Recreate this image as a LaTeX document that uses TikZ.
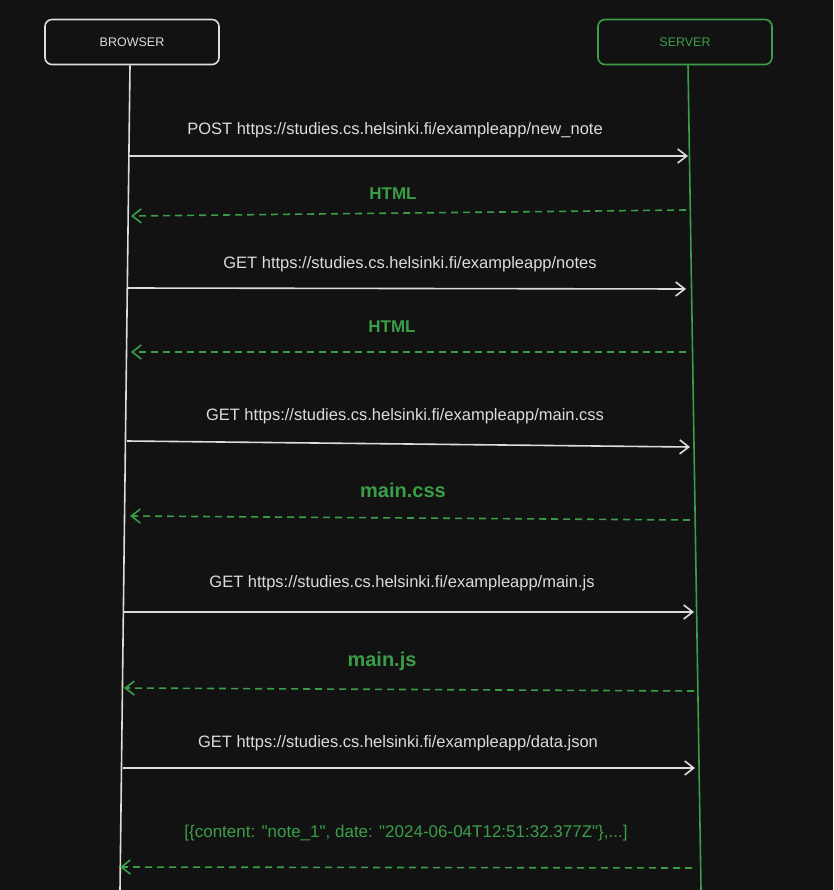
\documentclass[tikz,border=0pt]{standalone}
\usepackage{fontspec}
\setmainfont{Liberation Sans}
\usetikzlibrary{calc,positioning}
\usetikzlibrary{arrows.meta}
\definecolor{bgdark}{HTML}{121212}
\definecolor{inkwhite}{HTML}{DCDCDC}
\definecolor{inkgreen}{HTML}{3A9E48}
\tikzset{>={Straight Barb[width=14pt,length=9pt,line width=1.6pt]}}

\begin{document}
\begin{tikzpicture}[x=1pt,y=-1pt]
        \tikzstyle{actor} = [line width=1.6pt, rectangle, rounded corners=7pt, minimum width=174pt, minimum height=45pt, inner sep=2pt, font=\fontsize{12.5}{14}\selectfont]
        \tikzstyle{req} = [line width=1.6pt, draw=inkwhite, ->]
        \tikzstyle{resp} = [line width=1.6pt, draw=inkgreen, ->, dash pattern=on 7pt off 5pt]
        \tikzstyle{reqlabel} = [text=inkwhite, inner sep=0pt, font=\fontsize{16.5}{18}\selectfont]
        \tikzstyle{resplabel} = [text=inkgreen, inner sep=0pt, font=\fontsize{17}{19}\bfseries\selectfont]

        % background and page size
        \fill[bgdark] (0,0) rectangle (833,890);
        \useasboundingbox (0,0) rectangle (833,890);

        % the two parties
        \node[actor, draw=inkwhite, text=inkwhite] (browser) at (132,42) {BROWSER};
        \node[actor, draw=inkgreen, text=inkgreen] (server) at (685,42) {SERVER};

        % lifelines
        \coordinate (bend) at (120,890);
        \coordinate (send) at (701,890);
        \draw[line width=1.6pt, inkwhite] (browser.south) ++(-2,0) -- (bend);
        \draw[line width=1.6pt, inkgreen] (server.south) ++(3,0) -- (send);

        % ends of the messages on the lifelines
        \coordinate (b1) at (129,156);  \coordinate (s1) at (688,156);
        \coordinate (b2) at (131,216);  \coordinate (s2) at (686,210);
        \coordinate (b3) at (127,288);  \coordinate (s3) at (686,289);
        \coordinate (b4) at (131,352);  \coordinate (s4) at (686,352);
        \coordinate (b5) at (127,441);  \coordinate (s5) at (690,447);
        \coordinate (b6) at (130,516);  \coordinate (s6) at (690,520);
        \coordinate (b7) at (124,612);  \coordinate (s7) at (694,612);
        \coordinate (b8) at (124,688);  \coordinate (s8) at (694,691);
        \coordinate (b9) at (123,768);  \coordinate (s9) at (695,768);
        \coordinate (b10) at (120,867); \coordinate (s10) at (692,868);

        % labels
        \node[reqlabel] (m1) at (395,130) {POST https://studies.cs.helsinki.fi/exampleapp/new\_note};
        \node[resplabel] (m2) at (393,194) {HTML};
        \node[reqlabel] (m3) at (410,264) {GET https://studies.cs.helsinki.fi/exampleapp/notes};
        \node[resplabel] (m4) at (392,327) {HTML};
        \node[reqlabel] (m5) at (405,416) {GET https://studies.cs.helsinki.fi/exampleapp/main.css};
        \node[resplabel, font=\fontsize{20}{22}\bfseries\selectfont] (m6) at (403,490) {main.css};
        \node[reqlabel] (m7) at (402,583) {GET https://studies.cs.helsinki.fi/exampleapp/main.js};
        \node[resplabel, font=\fontsize{20}{22}\bfseries\selectfont] (m8) at (382,661) {main.js};
        \node[reqlabel] (m9) at (398,743) {GET https://studies.cs.helsinki.fi/exampleapp/data.json};
        \node[text=inkgreen, inner sep=0pt, font=\fontsize{17}{19}\selectfont] (m10) at (406,833) {[\{content: \textquotedbl note\_1\textquotedbl, date: \textquotedbl 2024-06-04T12:51:32.377Z\textquotedbl\},...]};

        % messages
        \draw[req] (b1) -- (s1);
        \draw[resp] (s2) -- (b2);
        \draw[req] (b3) -- (s3);
        \draw[resp] (s4) -- (b4);
        \draw[req] (b5) -- (s5);
        \draw[resp] (s6) -- (b6);
        \draw[req] (b7) -- (s7);
        \draw[resp] (s8) -- (b8);
        \draw[req] (b9) -- (s9);
        \draw[resp] (s10) -- (b10);
\end{tikzpicture}
\end{document}
